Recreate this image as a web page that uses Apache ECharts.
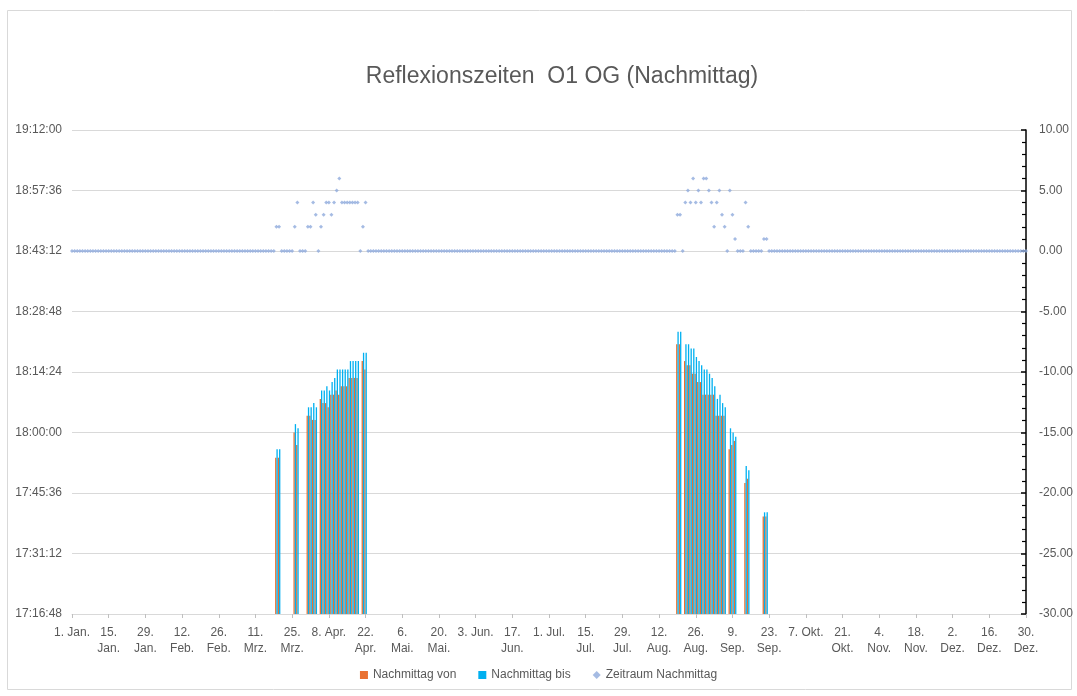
<!DOCTYPE html>
<html>
<head>
<meta charset="utf-8">
<script src="https://cdn.jsdelivr.net/npm/echarts@6/dist/echarts.min.js"></script>
<style>
  html, body { margin: 0; padding: 0; background: #fff; }
  #chart { width: 1077px; height: 696px; }
</style>
</head>
<body>
<div id="chart"></div>
<script>
// x axis tick labels, one every 14 days starting 1. Jan.
var xTickLabels = ['1. Jan.', '15.\nJan.', '29.\nJan.', '12.\nFeb.', '26.\nFeb.', '11.\nMrz.', '25.\nMrz.',
  '8. Apr.', '22.\nApr.', '6.\nMai.', '20.\nMai.', '3. Jun.', '17.\nJun.', '1. Jul.', '15.\nJul.',
  '29.\nJul.', '12.\nAug.', '26.\nAug.', '9.\nSep.', '23.\nSep.', '7. Okt.', '21.\nOkt.', '4.\nNov.',
  '18.\nNov.', '2.\nDez.', '16.\nDez.', '30.\nDez.'];
var daysInYear = 365;

// spring period, first entry = day 74 of the year
var springStartDay = 74;
var springZeitraum = [0,0,0,0,2,2,0,0,0,0,0,2,4,0,0,0,2,2,4,3,0,2,3,4,4,3,4,5,6,4,4,4,4,4,4,4,0,2,4];
var springVon = [null,null,null,null,'17:54','17:54',null,null,null,null,null,'18:00','17:57',null,null,null,
  '18:04','18:04','18:03','18:03',null,'18:08','18:07','18:07','18:06','18:09','18:09','18:10','18:09',
  '18:11','18:11','18:11','18:13','18:13','18:13','18:13',null,'18:17','18:15'];
var springBis = [null,null,null,null,'17:56','17:56',null,null,null,null,null,'18:02','18:01',null,null,null,
  '18:06','18:06','18:07','18:06',null,'18:10','18:10','18:11','18:10','18:12','18:13','18:15','18:15',
  '18:15','18:15','18:15','18:17','18:17','18:17','18:17',null,'18:19','18:19'];

// late summer period, first entry = day 228 of the year
var autumnStartDay = 228;
var autumnZeitraum = [0,0,0,3,3,0,4,5,4,6,4,5,4,6,6,5,4,2,4,5,3,2,0,5,3,1,0,0,0,4,2,0,0,0,0,0,1,1];
var autumnVon = [null,null,null,'18:21','18:21',null,'18:17','18:16','18:16','18:14','18:14','18:12','18:12',
  '18:09','18:09','18:09','18:09','18:09','18:04','18:04','18:04','18:04',null,'17:56','17:57','17:58',
  null,null,null,'17:48','17:49',null,null,null,null,null,'17:40','17:40'];
var autumnBis = [null,null,null,'18:24','18:24',null,'18:21','18:21','18:20','18:20','18:18','18:17','18:16',
  '18:15','18:15','18:14','18:13','18:11','18:08','18:09','18:07','18:06',null,'18:01','18:00','17:59',
  null,null,null,'17:52','17:51',null,null,null,null,null,'17:41','17:41'];

// left axis in seconds since midnight: 17:16:48 .. 19:12:00, step 14:24
var yMin = 62208, yMax = 69120, yStep = 864;

function toSec(s) {
  if (s == null) return null;
  var p = s.split(':');
  return (+p[0]) * 3600 + (+p[1]) * 60 + (p[2] ? +p[2] : 0);
}
function pad(n) { return (n < 10 ? '0' : '') + n; }
function fmtTime(v) {
  var h = Math.floor(v / 3600), m = Math.floor((v % 3600) / 60), s = Math.round(v % 60);
  return pad(h) + ':' + pad(m) + ':' + pad(s);
}

var days = [];
var vonData = [], bisData = [], zeitData = [];
for (var d = 0; d < daysInYear; d++) {
  days.push('d' + d);
  vonData.push(null); bisData.push(null); zeitData.push(0);
}
function place(start, zeit, von, bis) {
  for (var i = 0; i < zeit.length; i++) {
    zeitData[start + i] = zeit[i];
    vonData[start + i] = toSec(von[i]);
    bisData[start + i] = toSec(bis[i]);
  }
}
place(springStartDay, springZeitraum, springVon, springBis);
place(autumnStartDay, autumnZeitraum, autumnVon, autumnBis);

var textColor = '#595959';
var font = 'Liberation Sans';
var chart = echarts.init(document.getElementById('chart'));
chart.setOption({
  animation: false,
  textStyle: { fontFamily: font },
  title: {
    text: 'Reflexionszeiten  O1 OG (Nachmittag)',
    left: 557, top: 60, textAlign: 'center',
    textStyle: { color: textColor, fontSize: 23, fontWeight: 'normal', fontFamily: font }
  },
  graphic: [{
    type: 'rect', shape: { x: 7.5, y: 10.5, width: 1064, height: 679 },
    style: { fill: 'none', stroke: '#D9D9D9', lineWidth: 1 }, silent: true
  }],
  legend: {
    bottom: 10, left: 'center',
    itemWidth: 8, itemHeight: 8, itemGap: 22,
    textStyle: { color: textColor, fontSize: 12 },
    data: [
      { name: 'Nachmittag von', icon: 'rect' },
      { name: 'Nachmittag bis', icon: 'rect' },
      { name: 'Zeitraum Nachmittag', icon: 'diamond' }
    ]
  },
  grid: { left: 72, right: 51, top: 130, bottom: 82, containLabel: false },
  xAxis: {
    type: 'category',
    data: days,
    boundaryGap: false,
    axisLine: { onZero: false, lineStyle: { color: '#D9D9D9' } },
    axisTick: { interval: 13, length: 4, lineStyle: { color: '#BFBFBF' } },
    axisLabel: {
      interval: 13, color: textColor, fontSize: 12, lineHeight: 16, margin: 11,
      formatter: function (v, idx) { return xTickLabels[idx / 14]; }
    }
  },
  yAxis: [{
    type: 'value', min: yMin, max: yMax, interval: yStep, startValue: yMin,
    axisLine: { show: false }, axisTick: { show: false },
    splitLine: { lineStyle: { color: '#D9D9D9' } },
    axisLabel: { color: textColor, fontSize: 12, margin: 10, formatter: fmtTime }
  }, {
    type: 'value', min: -30, max: 10, interval: 5, position: 'right',
    axisLine: { show: true, lineStyle: { color: '#000', width: 1.5 } },
    axisTick: { show: true, inside: true, length: 5, lineStyle: { color: '#000', width: 1.5 } },
    minorTick: { show: true, splitNumber: 5, length: 4, lineStyle: { color: '#000', width: 1.2 } },
    splitLine: { show: false },
    axisLabel: { color: textColor, fontSize: 12, margin: 13, formatter: function (v) { return v.toFixed(2); } }
  }],
  series: [{
    name: 'Nachmittag von', type: 'bar', data: vonData, clip: true,
    barGap: '0%', barCategoryGap: '0%',
    itemStyle: { color: '#E97132' }
  }, {
    name: 'Nachmittag bis', type: 'bar', data: bisData, clip: true,
    itemStyle: { color: '#00B0F0' }
  }, {
    name: 'Zeitraum Nachmittag', type: 'scatter', yAxisIndex: 1, data: zeitData,
    symbol: 'diamond', symbolSize: 4, z: 5,
    itemStyle: { color: '#8FAADC' }
  }]
});
</script>
</body>
</html>
